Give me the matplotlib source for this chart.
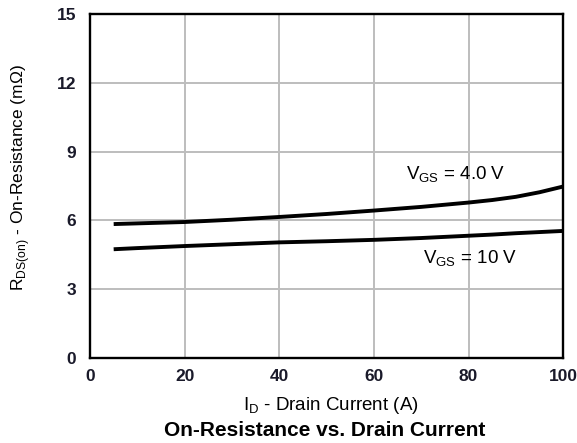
import matplotlib
matplotlib.use("Agg")
import matplotlib.pyplot as plt

plt.rcParams['font.family'] = ['Liberation Sans', 'DejaVu Sans']

current_a = [5, 10, 20, 30, 40, 50, 60, 70, 80, 85, 90, 95, 100]
rds_vgs4 = [5.83, 5.86, 5.92, 6.02, 6.14, 6.27, 6.42, 6.58, 6.77, 6.88, 7.02, 7.22, 7.47]
rds_vgs10 = [4.73, 4.78, 4.87, 4.95, 5.03, 5.08, 5.14, 5.22, 5.32, 5.37, 5.43, 5.48, 5.53]
x_ticks = [0, 20, 40, 60, 80, 100]
y_ticks = [0, 3, 6, 9, 12, 15]

fig = plt.figure(figsize=(5.77, 4.43), dpi=100)
ax = fig.add_axes([0.156, 0.193, 0.820, 0.775])
ax.plot(current_a, rds_vgs4, color='black', lw=2.8, solid_capstyle='butt')
ax.plot(current_a, rds_vgs10, color='black', lw=2.8, solid_capstyle='butt')
ax.set_xlim(0, 100)
ax.set_ylim(0, 15)
ax.set_xticks(x_ticks)
ax.set_yticks(y_ticks)
ax.grid(True, color='#bdbdbd', lw=1.4)
ax.set_axisbelow(True)
ax.tick_params(axis='x', length=0, labelsize=12.5, pad=8)
ax.tick_params(axis='y', length=0, labelsize=12.5, pad=10)
for lbl in ax.get_xticklabels() + ax.get_yticklabels():
    lbl.set_fontweight('bold')
    lbl.set_color('#1a1a2a')
for s in ax.spines.values():
    s.set_linewidth(1.7)
ax.text(77.2, 7.97, r'V$_{\mathregular{GS}}$ = 4.0 V', ha='center', va='center', fontsize=13.5)
ax.text(80.3, 4.3, r'V$_{\mathregular{GS}}$ = 10 V', ha='center', va='center', fontsize=13.5)
ax.set_xlabel(r'I$_{\mathregular{D}}$ - Drain Current (A)', fontsize=13.5)
ax.xaxis.set_label_coords(0.51, -0.108)
ax.set_ylabel(r'R$_{\mathregular{DS(on)}}$ - On-Resistance (m$\mathregular{\Omega}$)', fontsize=12.5)
ax.yaxis.set_label_coords(-0.122, 0.525)
fig.text(0.563, 0.029, 'On-Resistance vs. Drain Current', ha='center', va='center', fontsize=15, fontweight='bold')
fig.savefig('out.png', dpi=100)
